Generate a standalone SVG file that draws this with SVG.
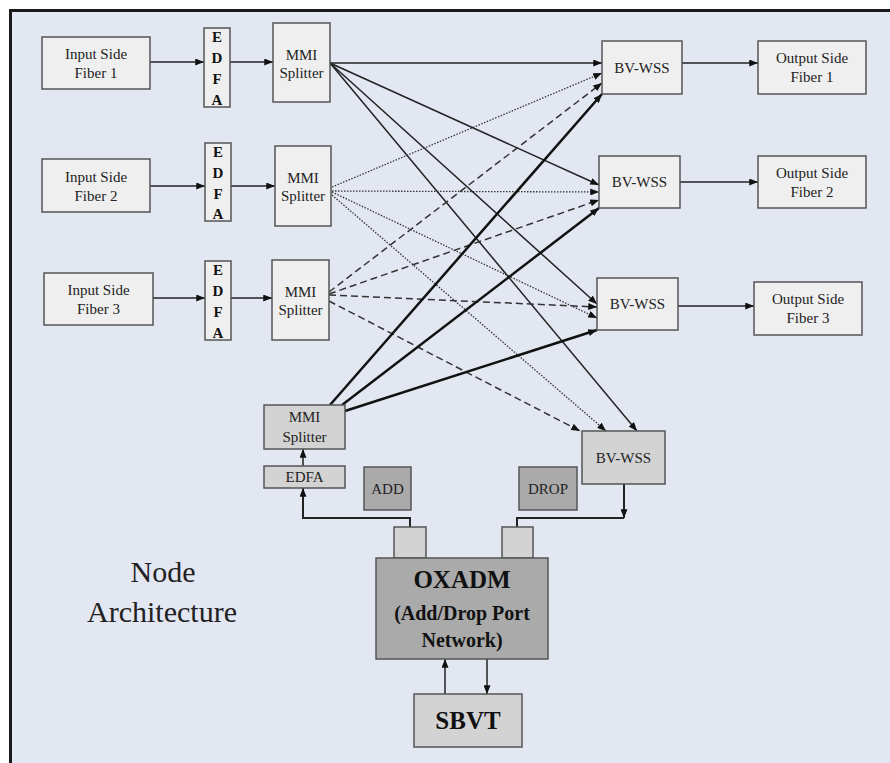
<svg xmlns="http://www.w3.org/2000/svg" width="890" height="763" viewBox="0 0 890 763">
<style>
.box{fill:#efefef;stroke:#555;stroke-width:1.5}
.gbox{fill:#d3d3d3;stroke:#555;stroke-width:1.5}
.dbox{fill:#aaaaaa;stroke:#555;stroke-width:1.5}
.t{font-family:'Liberation Serif','Times New Roman',Times,'DejaVu Serif',serif;font-size:15px;fill:#222;text-anchor:middle}
.b{font-weight:bold;fill:#111}
.c{fill:none}
.s{stroke:#222;stroke-width:1.5}
.th{stroke:#111;stroke-width:2.5}
.dt{stroke:#333;stroke-width:1.3;stroke-dasharray:1.5 1.5}
.ds{stroke:#333;stroke-width:1.5;stroke-dasharray:7 4}
.w{stroke:#222;stroke-width:2}
</style>
<defs>
<marker id="a" viewBox="0 0 10 8" refX="10" refY="4" markerWidth="9" markerHeight="7" markerUnits="userSpaceOnUse" orient="auto"><path d="M0,0 L10,4 L0,8 z" fill="#111"/></marker>
</defs>
<rect x="0" y="0" width="890" height="763" fill="#ffffff"/>
<rect x="10" y="10" width="880" height="753" fill="#e3e7f2"/>
<path d="M10.5,763 V10.5 H890" fill="none" stroke="#1a1a1a" stroke-width="3"/>

<g id="connectors" class="c" marker-end="url(#a)">
<path class="s" d="M150,62 H204"/>
<path class="s" d="M230,62 H273"/>
<path class="s" d="M150,186 H205"/>
<path class="s" d="M231,186 H275"/>
<path class="s" d="M153,298 H205"/>
<path class="s" d="M231,298 H272"/>
<path class="s" d="M682,63 H758"/>
<path class="s" d="M680,182 H758"/>
<path class="s" d="M678,306 H754"/>
<path class="s" d="M330,63 L602,63"/>
<path class="s" d="M330,63 L599,185"/>
<path class="s" d="M330,63 L597,304"/>
<path class="s" d="M330,63 L637,431"/>
<path class="dt" d="M332,187 L602,73"/>
<path class="dt" d="M332,191 L599,192"/>
<path class="dt" d="M332,192 L597,318"/>
<path class="dt" d="M332,195 L606,431"/>
<path class="ds" d="M329,292 L602,83"/>
<path class="ds" d="M329,294 L599,200"/>
<path class="ds" d="M329,295 L597,307"/>
<path class="ds" d="M329,301 L580,431"/>
<path class="th" d="M330,405 L602,94"/>
<path class="th" d="M342,405 L599,208"/>
<path class="th" d="M345,411 L597,330"/>
<path class="w" d="M410,527 V518 H303 V488"/>
<path class="s" d="M303,466 V449"/>
<path class="w" d="M624,484 V518"/>
<path class="w" d="M624,518 H517 V527" marker-end="none"/>
<path class="s" d="M445,694 V659"/>
<path class="s" d="M487,659 V694"/>
</g>

<g id="in1"><rect class="box" x="42" y="37" width="108" height="52"/><text class="t" x="96" y="59">Input Side</text><text class="t" x="96" y="78">Fiber 1</text></g>
<g id="in2"><rect class="box" x="42" y="159" width="108" height="53"/><text class="t" x="96" y="182">Input Side</text><text class="t" x="96" y="201">Fiber 2</text></g>
<g id="in3"><rect class="box" x="44" y="273" width="109" height="52"/><text class="t" x="98.5" y="295">Input Side</text><text class="t" x="98.5" y="314">Fiber 3</text></g>

<g id="edfa1"><rect class="box" x="204" y="28" width="26" height="79"/><text class="t b" x="217" y="42">E</text><text class="t b" x="217" y="63">D</text><text class="t b" x="217" y="84">F</text><text class="t b" x="217" y="105">A</text></g>
<g id="edfa2"><rect class="box" x="205" y="143" width="26" height="78"/><text class="t b" x="218" y="157">E</text><text class="t b" x="218" y="178">D</text><text class="t b" x="218" y="199">F</text><text class="t b" x="218" y="219">A</text></g>
<g id="edfa3"><rect class="box" x="205" y="261" width="26" height="79"/><text class="t b" x="218" y="275">E</text><text class="t b" x="218" y="296">D</text><text class="t b" x="218" y="317">F</text><text class="t b" x="218" y="338">A</text></g>

<g id="mmi1"><rect class="box" x="273" y="23" width="57" height="79"/><text class="t" x="301.5" y="60">MMI</text><text class="t" x="301.5" y="78">Splitter</text></g>
<g id="mmi2"><rect class="box" x="275" y="146" width="56" height="80"/><text class="t" x="303" y="183">MMI</text><text class="t" x="303" y="201">Splitter</text></g>
<g id="mmi3"><rect class="box" x="272" y="260" width="57" height="80"/><text class="t" x="300.5" y="297">MMI</text><text class="t" x="300.5" y="315">Splitter</text></g>

<g id="bv1"><rect class="box" x="602" y="41" width="80" height="53"/><text class="t" x="642" y="73">BV-WSS</text></g>
<g id="bv2"><rect class="box" x="599" y="156" width="81" height="52"/><text class="t" x="639.5" y="187">BV-WSS</text></g>
<g id="bv3"><rect class="box" x="597" y="278" width="81" height="52"/><text class="t" x="637.5" y="309">BV-WSS</text></g>

<g id="out1"><rect class="box" x="758" y="41" width="108" height="53"/><text class="t" x="812" y="63">Output Side</text><text class="t" x="812" y="82">Fiber 1</text></g>
<g id="out2"><rect class="box" x="758" y="156" width="108" height="52"/><text class="t" x="812" y="178">Output Side</text><text class="t" x="812" y="197">Fiber 2</text></g>
<g id="out3"><rect class="box" x="754" y="282" width="108" height="53"/><text class="t" x="808" y="304">Output Side</text><text class="t" x="808" y="323">Fiber 3</text></g>

<g id="mmi4"><rect class="gbox" x="264" y="405" width="81" height="44"/><text class="t" x="304.5" y="422">MMI</text><text class="t" x="304.5" y="442">Splitter</text></g>
<g id="edfa4"><rect class="gbox" x="264" y="466" width="81" height="22"/><text class="t" x="304.5" y="482">EDFA</text></g>
<g id="add"><rect class="dbox" x="364" y="467" width="47" height="43"/><text class="t" x="387.5" y="494">ADD</text></g>
<g id="drop"><rect class="dbox" x="519" y="467" width="58" height="43"/><text class="t" x="548" y="494">DROP</text></g>
<g id="bv4"><rect class="gbox" x="582" y="431" width="83" height="53"/><text class="t" x="623.5" y="463">BV-WSS</text></g>
<g id="port1"><rect class="gbox" x="394" y="527" width="32" height="31"/></g>
<g id="port2"><rect class="gbox" x="502" y="527" width="31" height="31"/></g>
<g id="oxadm"><rect class="dbox" x="376" y="558" width="172" height="101"/><text class="t b" x="462" y="588" style="font-size:25px">OXADM</text><text class="t b" x="462" y="620" style="font-size:20px">(Add/Drop Port</text><text class="t b" x="462" y="647" style="font-size:20px">Network)</text></g>
<g id="sbvt"><rect class="gbox" x="414" y="694" width="108" height="53"/><text class="t b" x="468" y="729" style="font-size:25px">SBVT</text></g>

<g id="label"><text class="t" x="163" y="582" style="font-size:30px">Node</text><text class="t" x="162" y="622" style="font-size:30px">Architecture</text></g>
</svg>
